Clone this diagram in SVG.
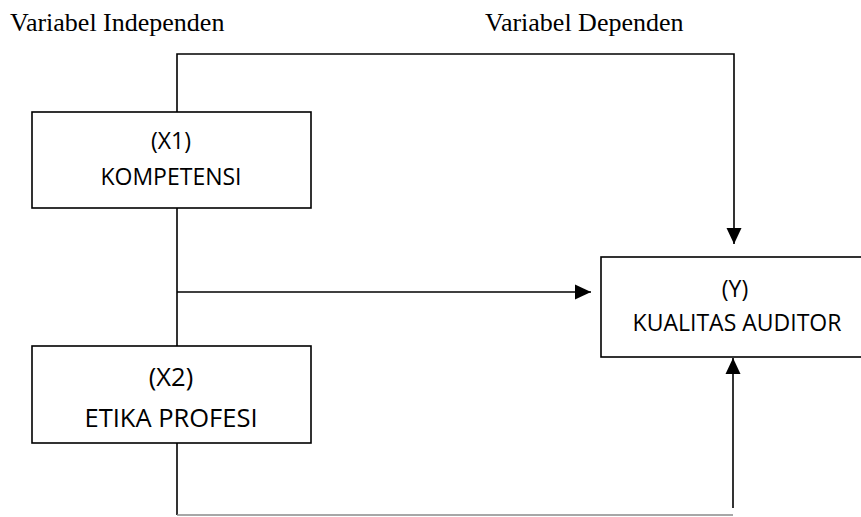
<svg xmlns="http://www.w3.org/2000/svg" width="861" height="517" viewBox="0 0 861 517">
<style>
.title{font-family:"Liberation Serif","Times New Roman",serif;font-size:26px;fill:#000}
.lbl{font-family:"Open Sans","Liberation Sans",sans-serif;font-size:23px;fill:#000;text-anchor:middle}
.big{font-size:25.5px}
.box{fill:#fff;stroke:#000;stroke-width:1.6}
.ln{fill:none;stroke:#000;stroke-width:1.6}
.ln2{fill:none;stroke:#8a8a8a;stroke-width:1.4}
</style>
<defs>
<marker id="ah" viewBox="0 0 16 16" refX="16" refY="8" markerWidth="16" markerHeight="16" markerUnits="userSpaceOnUse" orient="auto">
<path d="M0,0.5 L16,8 L0,15.5 Z" fill="#000"/>
</marker>
</defs>
<rect width="861" height="517" fill="#fff"/>
<text class="title" x="10" y="31">Variabel Independen</text>
<text class="title" x="485" y="31">Variabel Dependen</text>
<g id="connectors">
<path class="ln" d="M177,112 V54 H734 V244" marker-end="url(#ah)"/>
<path class="ln" d="M177,208 V346"/>
<path class="ln" d="M177,292 H591" marker-end="url(#ah)"/>
<path class="ln" d="M177,443 V515"/>
<path class="ln2" d="M177,515 H733"/>
<path class="ln" d="M733,508 V358" marker-end="url(#ah)"/>
</g>
<g id="x1">
<rect class="box" x="32" y="112" width="279" height="96"/>
<text class="lbl" x="171" y="149">(X1)</text>
<text class="lbl" x="171" y="185">KOMPETENSI</text>
</g>
<g id="x2">
<rect class="box" x="32" y="346" width="279" height="97"/>
<text class="lbl big" x="171" y="386">(X2)</text>
<text class="lbl big" x="171" y="427">ETIKA PROFESI</text>
</g>
<g id="y">
<rect class="box" x="601" y="257" width="280" height="100"/>
<text class="lbl" x="735" y="297">(Y)</text>
<text class="lbl" x="737" y="331">KUALITAS AUDITOR</text>
</g>
</svg>
